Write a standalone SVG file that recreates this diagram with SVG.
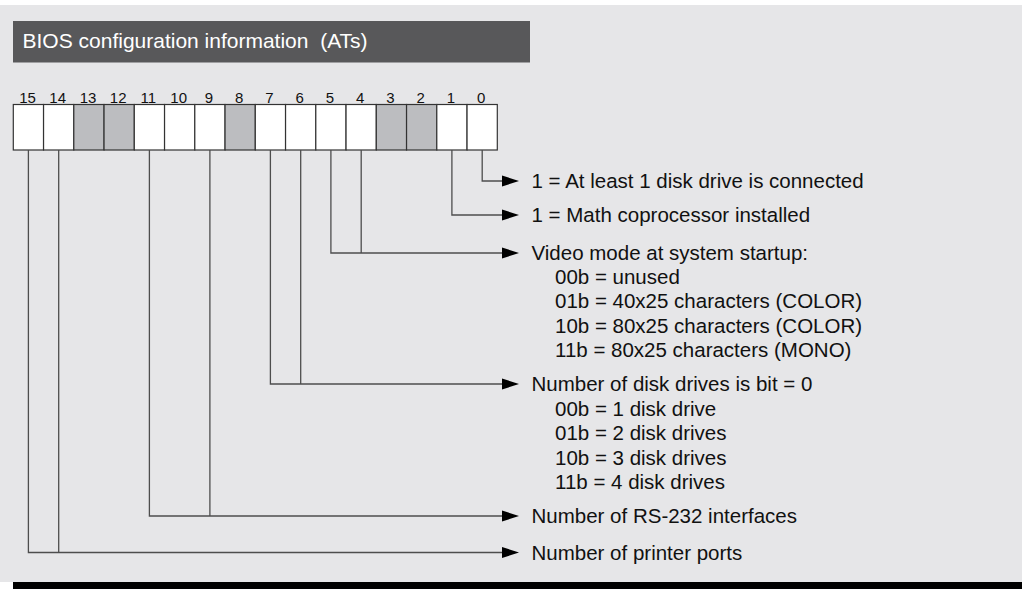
<svg xmlns="http://www.w3.org/2000/svg" width="1022" height="589" viewBox="0 0 1022 589">
<style>
.t{font-family:"Liberation Sans",Arial,Helvetica,sans-serif;fill:#111}
.lbl{font-size:20.5px}
.num{font-size:15px;text-anchor:middle}
.cell{fill:#fff;stroke:#333;stroke-width:1.2}
.cell.g{fill:#bcbdc0}
.conn{fill:none;stroke:#4d4d4d;stroke-width:1.3}
</style>
<defs>
<marker id="arr" markerWidth="17" markerHeight="12" refX="0" refY="6" orient="auto" markerUnits="userSpaceOnUse">
<path d="M0,0.5 L17,6 L0,11.5 Z" fill="#000"/>
</marker>
</defs>
<rect x="0" y="0" width="1022" height="589" fill="#fff"/>
<rect x="0" y="5" width="1022" height="577" fill="#e6e6e8"/>
<rect x="13" y="582" width="1009" height="7" fill="#000"/>
<g id="title">
<rect x="13" y="21" width="517" height="41.5" fill="#58585a"/>
<text x="22.5" y="48.3" class="t" style="font-size:21px;fill:#fff" xml:space="preserve">BIOS configuration information  (ATs)</text>
</g>
<g id="register">
<rect class="cell" x="13.3" y="104.5" width="30.25" height="45.5"/>
<rect class="cell" x="43.55" y="104.5" width="30.25" height="45.5"/>
<rect class="cell g" x="73.8" y="104.5" width="30.25" height="45.5"/>
<rect class="cell g" x="104.05" y="104.5" width="30.25" height="45.5"/>
<rect class="cell" x="134.3" y="104.5" width="30.25" height="45.5"/>
<rect class="cell" x="164.55" y="104.5" width="30.25" height="45.5"/>
<rect class="cell" x="194.8" y="104.5" width="30.25" height="45.5"/>
<rect class="cell g" x="225.05" y="104.5" width="30.25" height="45.5"/>
<rect class="cell" x="255.3" y="104.5" width="30.25" height="45.5"/>
<rect class="cell" x="285.55" y="104.5" width="30.25" height="45.5"/>
<rect class="cell" x="315.8" y="104.5" width="30.25" height="45.5"/>
<rect class="cell" x="346.05" y="104.5" width="30.25" height="45.5"/>
<rect class="cell g" x="376.3" y="104.5" width="30.25" height="45.5"/>
<rect class="cell g" x="406.55" y="104.5" width="30.25" height="45.5"/>
<rect class="cell" x="436.8" y="104.5" width="30.25" height="45.5"/>
<rect class="cell" x="467.05" y="104.5" width="30.25" height="45.5"/>
<g class="t num">
<text x="27.5" y="103">15</text>
<text x="57.7" y="103">14</text>
<text x="88" y="103">13</text>
<text x="118.2" y="103">12</text>
<text x="148.4" y="103">11</text>
<text x="178.7" y="103">10</text>
<text x="208.9" y="103">9</text>
<text x="239.2" y="103">8</text>
<text x="269.4" y="103">7</text>
<text x="299.7" y="103">6</text>
<text x="329.9" y="103">5</text>
<text x="360.1" y="103">4</text>
<text x="390.4" y="103">3</text>
<text x="420.6" y="103">2</text>
<text x="450.9" y="103">1</text>
<text x="481.1" y="103">0</text>
</g>
</g>
<g id="connectors">
<path class="conn" d="M482.2,150 V181 H502" marker-end="url(#arr)"/>
<path class="conn" d="M451.9,150 V215 H502" marker-end="url(#arr)"/>
<path class="conn" d="M330.9,150 V253 H502" marker-end="url(#arr)"/>
<path class="conn" d="M361.2,150 V253"/>
<path class="conn" d="M270.4,150 V384 H502" marker-end="url(#arr)"/>
<path class="conn" d="M300.7,150 V384"/>
<path class="conn" d="M149.4,150 V516 H502" marker-end="url(#arr)"/>
<path class="conn" d="M209.9,150 V516"/>
<path class="conn" d="M28.4,150 V552.5 H502" marker-end="url(#arr)"/>
<path class="conn" d="M58.7,150 V552.5"/>
</g>
<g id="bit0-label" class="t lbl">
<text x="531.5" y="187.5">1 = At least 1 disk drive is connected</text>
</g>
<g id="bit1-label" class="t lbl">
<text x="531.5" y="222">1 = Math coprocessor installed</text>
</g>
<g id="video-label" class="t lbl">
<text x="531.5" y="260">Video mode at system startup:</text>
<text x="555" y="283.5">00b = unused</text>
<text x="555" y="308">01b = 40x25 characters (COLOR)</text>
<text x="555" y="332.5">10b = 80x25 characters (COLOR)</text>
<text x="555" y="357">11b = 80x25 characters (MONO)</text>
</g>
<g id="disk-label" class="t lbl">
<text x="531.5" y="391">Number of disk drives is bit = 0</text>
<text x="555" y="415.5">00b = 1 disk drive</text>
<text x="555" y="440">01b = 2 disk drives</text>
<text x="555" y="464.5">10b = 3 disk drives</text>
<text x="555" y="489">11b = 4 disk drives</text>
</g>
<g id="rs232-label" class="t lbl">
<text x="531.5" y="523">Number of RS-232 interfaces</text>
</g>
<g id="printer-label" class="t lbl">
<text x="531.5" y="559.5">Number of printer ports</text>
</g>
</svg>
